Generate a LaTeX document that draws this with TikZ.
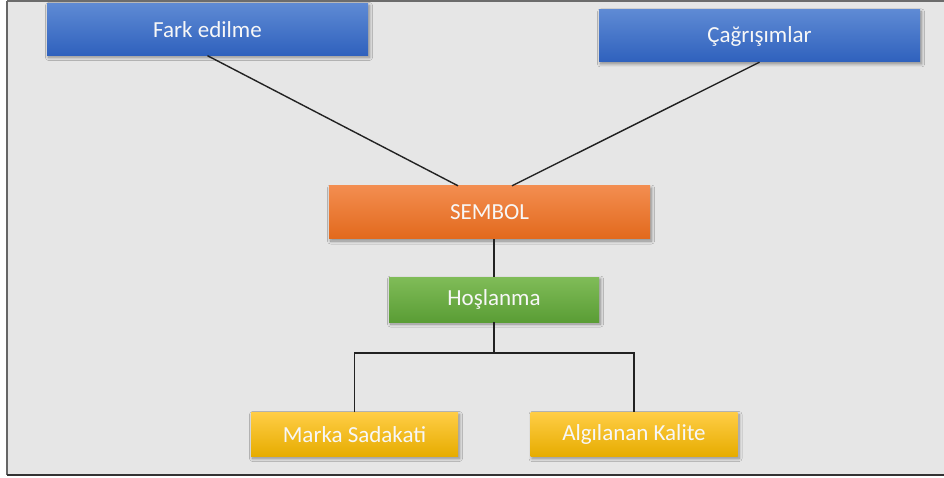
\documentclass[tikz,border=0pt]{standalone}
\usepackage{fontspec}
\setmainfont{Carlito}
\usetikzlibrary{shadows.blur}
\definecolor{panel}{HTML}{E6E6E6}
\definecolor{blueT}{HTML}{5E8AD4}
\definecolor{blueB}{HTML}{2F61BD}
\definecolor{orangeT}{HTML}{F38D50}
\definecolor{orangeM}{HTML}{F47C2C}
\definecolor{orangeB}{HTML}{E2691C}
\definecolor{greenT}{HTML}{80BC58}
\definecolor{greenB}{HTML}{5A9D35}
\definecolor{yellowT}{HTML}{FFCD45}
\definecolor{yellowM}{HTML}{FFC000}
\definecolor{yellowB}{HTML}{E6AC00}
\definecolor{linkc}{HTML}{222222}
\definecolor{label}{HTML}{F7F7F7}
\tikzset{
  box/.style={rectangle, inner sep=0pt, text=label,
    font=\fontsize{23}{27}\selectfont,
    blur shadow={shadow xshift=1.5pt, shadow yshift=-2pt, shadow blur radius=3pt,
      shadow blur steps=8, shadow opacity=40}},
  bluebox/.style={box, top color=blueT, bottom color=blueB,
    minimum width=321pt, minimum height=52pt},
  orangebox/.style={box, top color=orangeT, middle color=orangeM, bottom color=orangeB,
    minimum width=321pt, minimum height=53pt},
  greenbox/.style={box, top color=greenT, bottom color=greenB,
    minimum width=210pt, minimum height=45pt},
  yellowbox/.style={box, top color=yellowT, middle color=yellowM, bottom color=yellowB,
    minimum width=207pt, minimum height=44pt},
  link/.style={draw=linkc, line width=1.4pt}
}
\begin{document}
\begin{tikzpicture}[x=1pt, y=-1pt]
  % page area and frame
  \useasboundingbox (0,0) rectangle (944,478);
  \fill[white] (0,0) rectangle (944,478);
  \fill[panel] (7,1) rectangle (944,475);
  \draw[draw=gray!85!black, line width=2pt] (7,1) -- (944,1);
  \draw[draw=gray!80!black, line width=2pt] (7,1) -- (7,475);
  \draw[draw=black!80, line width=2pt] (7,475) -- (944,475);

  % nodes
  \node[bluebox]   (fark)   at (207.5,29.5) {Fark edilme};
  \node[bluebox]   (cag)    at (759.5,36)   {Çağrışımlar};
  \node[orangebox] (sembol) at (489.5,212.5) {SEMBOL};
  \node[greenbox]  (hos)    at (494,299.5)  {Hoşlanma};
  \node[yellowbox] (marka)  at (354.5,434.5) {Marka Sadakati};
  \node[yellowbox] (alg)    at (634,434.5)  {Algılanan Kalite};
  \coordinate (split) at (494,353);

  % connectors
  \draw[link] (fark.south) -- ([xshift=-31.5pt]sembol.north);
  \draw[link] (cag.south) -- ([xshift=22.5pt]sembol.north);
  \draw[link] (hos.north |- sembol.south) -- (hos.north);
  \draw[link] (hos.south) -- (split);
  \draw[link] (marka.north) |- (split) -| (alg.north);
\end{tikzpicture}
\end{document}
